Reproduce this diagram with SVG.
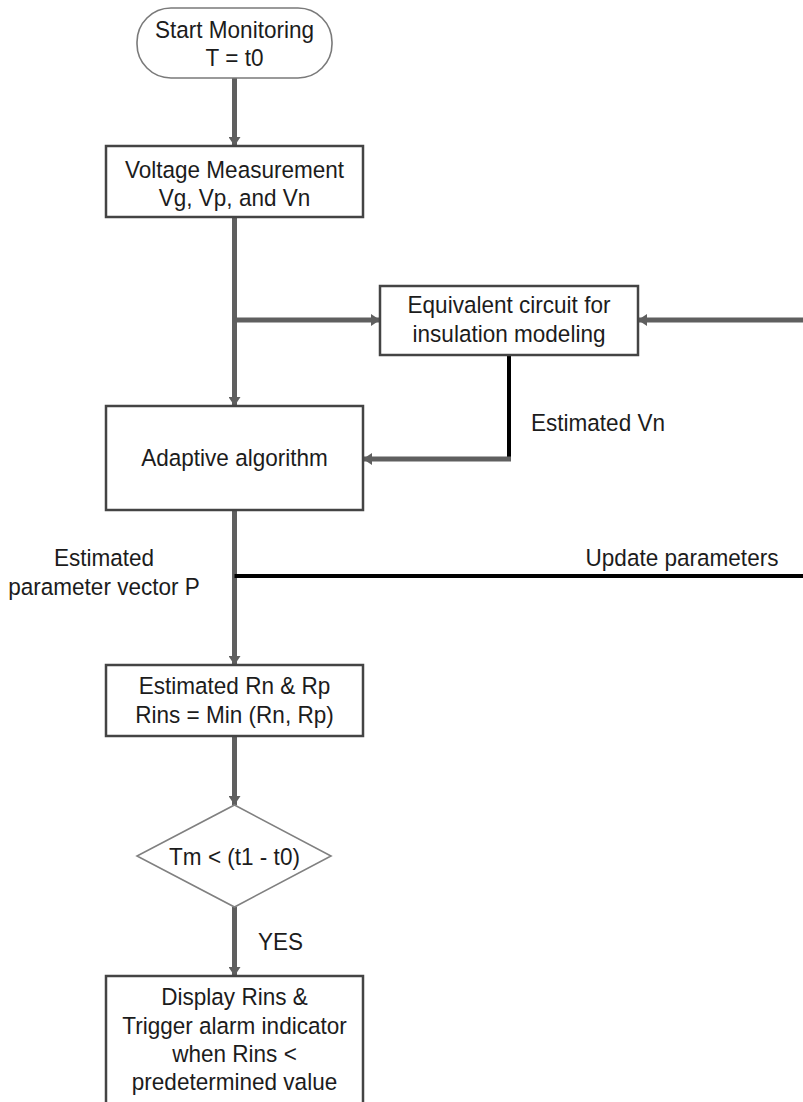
<svg xmlns="http://www.w3.org/2000/svg" width="803" height="1102" viewBox="0 0 803 1102">
  <style>
    .box { fill: #ffffff; stroke: #444444; stroke-width: 2.5; }
    .term { fill: #ffffff; stroke: #7a7a7a; stroke-width: 1.6; }
    .dia { fill: #ffffff; stroke: #808080; stroke-width: 1.6; }
    .t { font-family: "Liberation Sans", Arial, sans-serif; font-size: 24.5px; fill: #1c1c1c; text-anchor: middle; }
    .ts { font-family: "Liberation Sans", Arial, sans-serif; font-size: 24.5px; fill: #1c1c1c; }
    .flow { fill: none; stroke: #5f5f5f; stroke-width: 5; }
    .fb { fill: none; stroke: #000000; stroke-width: 4; }
  </style>
  <defs>
    <marker id="arr" markerUnits="userSpaceOnUse" markerWidth="9" markerHeight="12" refX="9" refY="6" orient="auto">
      <path d="M0,0 L9,6 L0,12 Z" fill="#5f5f5f"/>
    </marker>
  </defs>
  <rect width="803" height="1102" fill="#ffffff"/>

  <!-- connectors and their labels; labels are slightly condensed horizontally -->
  <g id="connectors">
    <line class="flow" x1="234.5" y1="78" x2="234.5" y2="146" marker-end="url(#arr)"/>
    <line class="flow" x1="234.5" y1="217" x2="234.5" y2="406" marker-end="url(#arr)"/>
    <line class="flow" x1="234.5" y1="320" x2="380" y2="320" marker-end="url(#arr)"/>
    <line class="flow" x1="803" y1="320" x2="638" y2="320" marker-end="url(#arr)"/>
    <line class="fb" x1="509" y1="355" x2="509" y2="461"/>
    <line class="flow" x1="511" y1="459" x2="363" y2="459" marker-end="url(#arr)"/>
    <line class="flow" x1="234.5" y1="510" x2="234.5" y2="665" marker-end="url(#arr)"/>
    <line class="fb" x1="234.5" y1="576" x2="803" y2="576"/>
    <line class="flow" x1="234.5" y1="736" x2="234.5" y2="805" marker-end="url(#arr)"/>
    <line class="flow" x1="234.5" y1="907" x2="234.5" y2="976" marker-end="url(#arr)"/>
    <g transform="translate(531 0) scale(0.92 1)"><text class="ts" x="0" y="431">Estimated Vn</text></g>
    <g transform="translate(682 0) scale(0.92 1)"><text class="t" x="0" y="566">Update parameters</text></g>
    <g transform="translate(104 0) scale(0.92 1)">
      <text class="t" x="0" y="566">Estimated</text>
      <text class="t" x="0" y="595">parameter vector P</text>
    </g>
    <g transform="translate(258 0) scale(0.92 1)"><text class="ts" x="0" y="950">YES</text></g>
  </g>

  <g id="start">
    <rect class="term" x="137" y="8" width="195" height="70" rx="34" ry="34"/>
    <g transform="translate(234.5 0) scale(0.92 1)">
      <text class="t" x="0" y="38">Start Monitoring</text>
      <text class="t" x="0" y="66">T = t0</text>
    </g>
  </g>

  <g id="voltage">
    <rect class="box" x="106" y="146" width="257" height="71"/>
    <g transform="translate(234.5 0) scale(0.92 1)">
      <text class="t" x="0" y="178">Voltage Measurement</text>
      <text class="t" x="0" y="206">Vg, Vp, and Vn</text>
    </g>
  </g>

  <g id="equivalent">
    <rect class="box" x="380" y="286" width="258" height="69"/>
    <g transform="translate(509 0) scale(0.92 1)">
      <text class="t" x="0" y="313">Equivalent circuit for</text>
      <text class="t" x="0" y="342">insulation modeling</text>
    </g>
  </g>

  <g id="adaptive">
    <rect class="box" x="106" y="406" width="257" height="104"/>
    <g transform="translate(234.5 0) scale(0.92 1)">
      <text class="t" x="0" y="466">Adaptive algorithm</text>
    </g>
  </g>

  <g id="estimated">
    <rect class="box" x="106" y="665" width="257" height="71"/>
    <g transform="translate(234.5 0) scale(0.92 1)">
      <text class="t" x="0" y="694">Estimated Rn &amp; Rp</text>
      <text class="t" x="0" y="723">Rins = Min (Rn, Rp)</text>
    </g>
  </g>

  <g id="decision">
    <polygon class="dia" points="234.5,805 331,856 234.5,907 137,856"/>
    <g transform="translate(234.5 0) scale(0.92 1)">
      <text class="t" x="0" y="865">Tm &lt; (t1 - t0)</text>
    </g>
  </g>

  <g id="display">
    <rect class="box" x="106" y="976" width="257" height="132"/>
    <g transform="translate(234.5 0) scale(0.92 1)">
      <text class="t" x="0" y="1005">Display Rins &amp;</text>
      <text class="t" x="0" y="1034">Trigger alarm indicator</text>
      <text class="t" x="0" y="1062">when Rins &lt;</text>
      <text class="t" x="0" y="1090">predetermined value</text>
    </g>
  </g>
</svg>
